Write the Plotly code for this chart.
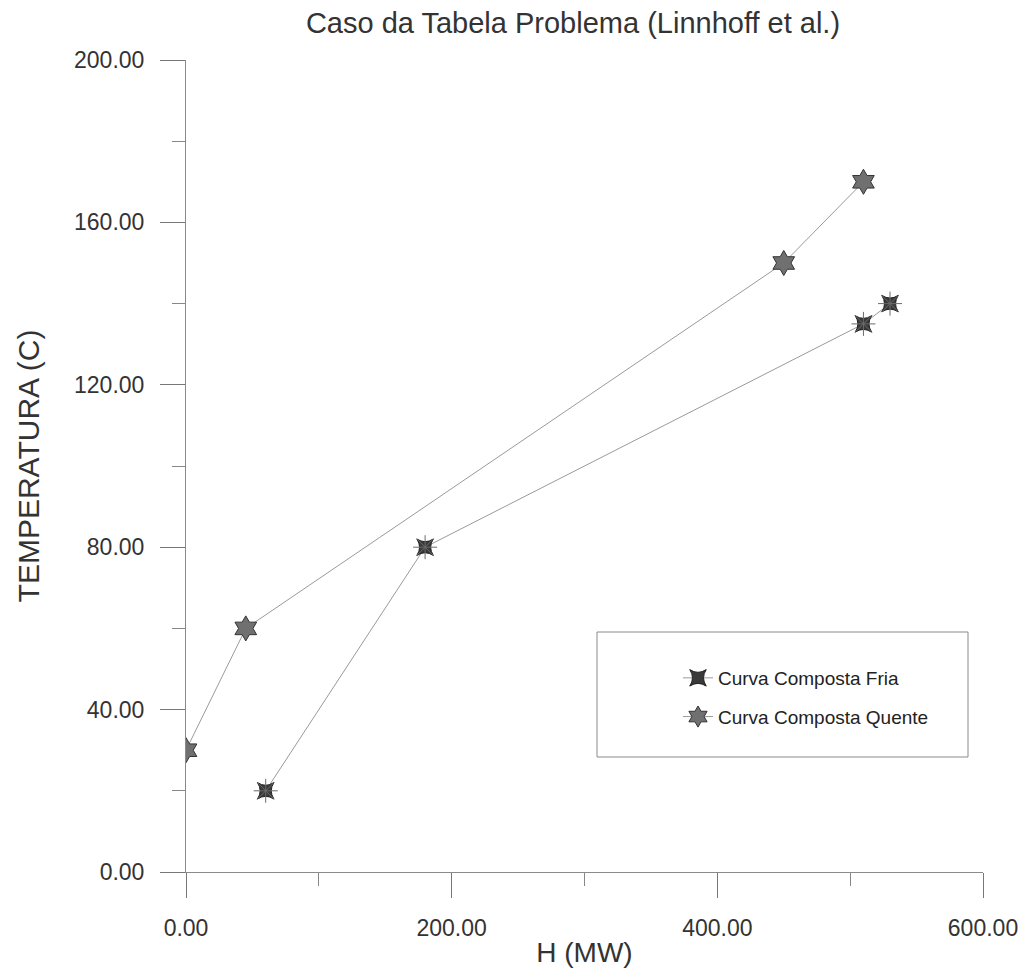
import plotly.graph_objects as go

# Composite curves (enthalpy H in MW vs temperature in C)
cold_h = [60, 180, 510, 530]
cold_t = [20, 80, 135, 140]
hot_h = [0, 45, 450, 510]
hot_t = [30, 60, 150, 170]

x_ticks = [0, 200, 400, 600]
y_ticks = [0, 40, 80, 120, 160, 200]

FONT = "Liberation Sans, Arial, sans-serif"

fig = go.Figure()
fig.add_trace(go.Scatter(
    x=cold_h, y=cold_t, mode="lines+markers", name="Curva Composta Fria",
    legendgroup="fria",
    line=dict(color="#9a9a9a", width=1),
    marker=dict(symbol="star-square", size=15, color="#3a3a3a",
                line=dict(color="#222222", width=1)),
))
# thin spokes around the cold-curve markers
fig.add_trace(go.Scatter(
    x=cold_h, y=cold_t, mode="markers", legendgroup="fria", showlegend=False,
    hoverinfo="skip",
    marker=dict(symbol="asterisk-open", size=20, color="#6a6a6a",
                line=dict(color="#6a6a6a", width=1)),
))
fig.add_trace(go.Scatter(
    x=hot_h, y=hot_t, mode="lines+markers", name="Curva Composta Quente",
    legendgroup="quente",
    line=dict(color="#9a9a9a", width=1),
    marker=dict(symbol="hexagram", size=19, color="#707070",
                line=dict(color="#333333", width=1)),
))

axis_common = dict(
    showgrid=False, zeroline=False, showline=True, linecolor="#8a8a8a",
    linewidth=1, ticks="outside", ticklen=25, tickcolor="#777777",
    tickwidth=1, tickformat=".2f", automargin=False,
    tickfont=dict(family=FONT, size=23, color="#333333"),
)

fig.update_xaxes(
    range=[0, 600], tickvals=x_ticks, ticklabelstandoff=10,
    minor=dict(dtick=100, tick0=0, ticks="outside", ticklen=13,
               tickcolor="#888888", tickwidth=1),
    title=dict(text="H (MW)", standoff=2,
               font=dict(family=FONT, size=28, color="#333333")),
    **axis_common,
)
fig.update_yaxes(
    range=[0, 200], tickvals=y_ticks, ticklabelstandoff=11,
    minor=dict(dtick=20, tick0=0, ticks="outside", ticklen=13,
               tickcolor="#888888", tickwidth=1),
    title=dict(text="TEMPERATURA (C)", standoff=25,
               font=dict(family=FONT, size=30, color="#333333")),
    **axis_common,
)

# Legend frame
fig.add_shape(type="rect", xref="paper", yref="paper",
              x0=(597 - 186) / 797, x1=(968 - 186) / 797,
              y0=(872 - 757) / 812, y1=(872 - 632) / 812,
              line=dict(color="#8a8a8a", width=1), fillcolor="rgba(0,0,0,0)")

fig.update_layout(
    width=1024, height=972,
    margin=dict(l=186, r=41, t=60, b=100),
    paper_bgcolor="white", plot_bgcolor="white",
    title=dict(text="Caso da Tabela Problema (Linnhoff et al.)",
               x=(573 - 186) / 797, xref="paper", xanchor="center",
               y=1 - 23 / 972, yanchor="middle",
               font=dict(family=FONT, size=29, color="#333333")),
    showlegend=True,
    legend=dict(x=(678 - 186) / 797, y=(872 - 659) / 812,
                xanchor="left", yanchor="top",
                bgcolor="rgba(0,0,0,0)", borderwidth=0,
                tracegroupgap=11, traceorder="grouped",
                font=dict(family=FONT, size=19, color="#222222")),
)

fig.write_html("out.html")
